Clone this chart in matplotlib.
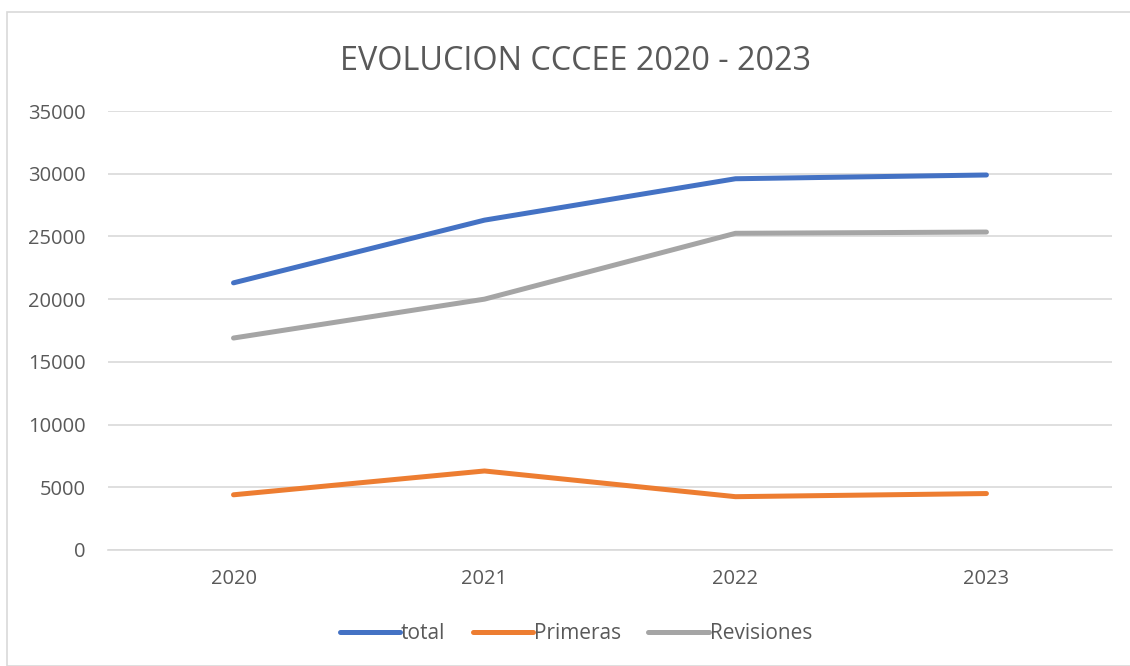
"""Line chart: EVOLUCION CCCEE 2020 - 2023."""

import matplotlib

matplotlib.use("Agg")

import matplotlib.pyplot as plt  # noqa: E402
from matplotlib.patches import Rectangle  # noqa: E402

years = ["2020", "2021", "2022", "2023"]
total = [21300, 26300, 29600, 29900]
primeras = [4400, 6300, 4250, 4500]
revisiones = [16900, 20000, 25250, 25350]

y_ticks = [0, 5000, 10000, 15000, 20000, 25000, 30000, 35000]

TEXT = "#595959"
GRID = "#d9d9d9"

plt.rcParams["font.family"] = ["Open Sans", "DejaVu Sans"]

figure = plt.figure(figsize=(11.3, 6.66), dpi=100)
axis = figure.add_axes([0.0956, 0.1742, 0.8884, 0.6591])

series = [
    ("total", total, "#4472C4"),
    ("Primeras", primeras, "#ED7D31"),
    ("Revisiones", revisiones, "#A5A5A5"),
]
positions = range(len(years))
for label, values, color in series:
    axis.plot(positions, values, color=color, linewidth=3.6, label=label,
              solid_capstyle="round", solid_joinstyle="round")

axis.set_xlim(-0.5, len(years) - 0.5)
axis.set_ylim(0, 35000)
axis.set_yticks(y_ticks)
axis.set_yticklabels([str(v) for v in y_ticks])
axis.set_xticks(list(positions))
axis.set_xticklabels(years)
axis.tick_params(length=0, labelsize=14.5, colors=TEXT)
axis.tick_params(axis="y", pad=16)
axis.tick_params(axis="x", pad=14)
axis.grid(axis="y", color=GRID, linewidth=1.2)
axis.set_axisbelow(True)
for spine in ["top", "right", "left"]:
    axis.spines[spine].set_visible(False)
axis.spines["bottom"].set_color(GRID)
axis.spines["bottom"].set_linewidth(1.2)

figure.text(0.509, 1 - 70 / 666, "EVOLUCION CCCEE 2020 - 2023", ha="center",
            va="baseline", fontsize=23.3, color=TEXT)

axis.legend(loc="center", bbox_to_anchor=(0.466, -0.191), ncol=3, frameon=False,
            fontsize=15, labelcolor=TEXT, handlelength=2.9, handletextpad=0.05,
            columnspacing=1.3)

figure.patches.append(Rectangle((7 / 1130, 0), 1.2, 1 - 12 / 666,
                                transform=figure.transFigure, fill=False,
                                edgecolor="#d9d9d9", linewidth=1.2))

figure.savefig("out.png", dpi=100)
